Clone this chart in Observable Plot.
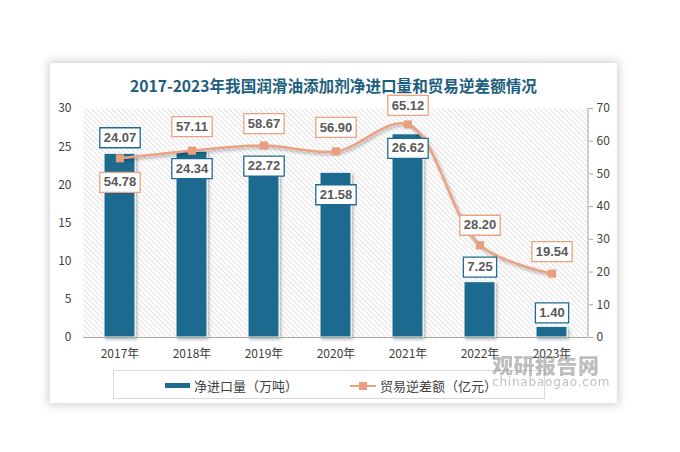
<!DOCTYPE html>
<html>
<head>
<meta charset="utf-8">
<script src="https://cdn.jsdelivr.net/npm/d3@7"></script>
<script src="https://cdn.jsdelivr.net/npm/@observablehq/plot@0.6"></script>
<style>
  html, body { margin: 0; padding: 0; background: #ffffff; }
  body { width: 680px; height: 452px; position: relative; overflow: hidden; font-family: "Noto Sans CJK SC", "Noto Sans", sans-serif; }
  #card { position: absolute; left: 50px; top: 63px; width: 567px; height: 340px; background: #fff; box-shadow: 0 0 9px 2px rgba(0,0,0,0.18); }
  #title { position: absolute; left: 0; width: 567px; top: 11px; text-align: center; font-size: 15.6px; font-weight: bold; color: #1c5e7e; }
  #chart { position: absolute; left: 0; top: 0; }
  #legend { position: absolute; left: 63px; top: 307px; width: 432px; height: 29px; border: 1px solid #d9d9d9; box-sizing: border-box; font-size: 13px; color: #404040; }
  .li { position: absolute; top: 5px; display: flex; align-items: center; }
  #wm { position: absolute; left: 442px; top: 286px; color: #7f7f7f; opacity: 0.5; pointer-events: none; }
  #wm .a { font-size: 21px; font-weight: 900; letter-spacing: 0.5px; }
  #wm .b { font-size: 12px; font-family: "DejaVu Sans", sans-serif; letter-spacing: 0.8px; margin-top: -4px; }
</style>
</head>
<body>
<div id="card">
  <div id="title"></div>
  <div id="chart"></div>
  <div id="legend"></div>
  <div id="wm"><div class="a">观研报告网</div><div class="b">chinabaogao.com</div></div>
</div>
<script>
// ---- data ----
const title = "2017-2023年我国润滑油添加剂净进口量和贸易逆差额情况";
const years = ["2017年", "2018年", "2019年", "2020年", "2021年", "2022年", "2023年"];
const netImport = [24.07, 24.34, 22.72, 21.58, 26.62, 7.25, 1.40];   // 万吨
const deficit = [54.78, 57.11, 58.67, 56.90, 65.12, 28.20, 19.54];     // 亿元
const leftTicks = [0, 5, 10, 15, 20, 25, 30];
const rightTicks = [0, 10, 20, 30, 40, 50, 60, 70];
const seriesNames = ["净进口量（万吨）", "贸易逆差额（亿元）"];

// ---- styling / layout ----
const W = 567, H = 340;
const mL = 33, mR = 29, mT = 45, mB = 66;
const barColor = "#1e6b8f";
const lineColor = "#eba282";
const markerColor = "#e99f7f";
const k = leftTicks[leftTicks.length - 1] / rightTicks[rightTicks.length - 1];
const barLabelDy = [-16, 17, 2, 22, 14, -15, -14];
const lineLabelDy = [24, -24, -22, -24, -19, -20, -22];

document.getElementById("title").textContent = title;

const rows = years.map((y, i) => ({year: y, imp: netImport[i], def: deficit[i], defS: deficit[i] * k}));

function boxSymbol(w, h) {
  return {draw(ctx) { ctx.rect(-w / 2, -h / 2, w, h); }};
}
function labelWidth(s) {
  let w = 0;
  for (const c of s) w += c === "." ? 3.6 : 7.2;
  return w + 8;
}

const labelMarks = [];
rows.forEach((d, i) => {
  const sb = d.imp.toFixed(2);
  labelMarks.push(Plot.dot([d], {x: "year", y: "imp", symbol: boxSymbol(labelWidth(sb), 20), r: 5, fill: "white", stroke: barColor, strokeWidth: 1.3, dy: barLabelDy[i]}));
  labelMarks.push(Plot.text([d], {x: "year", y: "imp", text: () => sb, dy: barLabelDy[i], fontSize: 13, fontWeight: "bold", fill: "#595959", fontFamily: "Liberation Sans, Arial, sans-serif"}));
  const sl = d.def.toFixed(2);
  labelMarks.push(Plot.dot([d], {x: "year", y: "defS", symbol: boxSymbol(labelWidth(sl), 20), r: 5, fill: "white", stroke: lineColor, strokeWidth: 1.3, dy: lineLabelDy[i]}));
  labelMarks.push(Plot.text([d], {x: "year", y: "defS", text: () => sl, dy: lineLabelDy[i], fontSize: 13, fontWeight: "bold", fill: "#595959", fontFamily: "Liberation Sans, Arial, sans-serif"}));
});

const chart = Plot.plot({
  width: W, height: H,
  marginLeft: mL, marginRight: mR, marginTop: mT, marginBottom: mB,
  style: {fontFamily: "Noto Sans CJK SC, Noto Sans, sans-serif", fontSize: "12px", color: "#404040", background: "transparent", overflow: "visible"},
  x: {domain: years, paddingInner: 0.57, paddingOuter: 0.285, label: null},
  y: {domain: [0, 30], label: null},
  marks: [
    Plot.frame({fill: "url(#hatchp)", stroke: null}),
    Plot.barY(rows, {x: "year", y: "imp", fill: barColor, stroke: "white", strokeWidth: 1}),
    Plot.ruleY([0], {stroke: "#a6a6a6", strokeWidth: 1}),
    Plot.line(rows, {x: "year", y: "defS", stroke: lineColor, strokeWidth: 2.5, curve: "catmull-rom"}),
    Plot.dot(rows, {x: "year", y: "defS", symbol: "square", r: 4.6, fill: markerColor, stroke: null}),
    ...labelMarks,
    Plot.axisX({tickSize: 0, tickPadding: 12, fontSize: 12, label: null}),
    Plot.axisY(leftTicks, {anchor: "left", tickSize: 0, tickPadding: 12, label: null}),
    Plot.axisY(rightTicks.map(v => v * k), {anchor: "right", tickSize: 4, tickPadding: 4, stroke: "#a6a6a6", tickFormat: v => String(Math.round(v / k)), label: null})
  ]
});

const defs = `<defs>
  <pattern id="hatchp" patternUnits="userSpaceOnUse" width="3.6" height="3.6" patternTransform="rotate(-45)">
    <rect width="3.6" height="3.6" fill="#ffffff"/>
    <line x1="0" y1="0" x2="0" y2="3.6" stroke="#d4d4d4" stroke-width="1.3"/>
  </pattern>
  <filter id="shadow" x="-20%" y="-20%" width="140%" height="140%">
    <feDropShadow dx="1.5" dy="2" stdDeviation="1.6" flood-color="#000" flood-opacity="0.3"/>
  </filter>
</defs>`;
chart.insertAdjacentHTML("afterbegin", defs);
chart.querySelectorAll('g[aria-label="bar"], g[aria-label="line"]').forEach(g => g.setAttribute("filter", "url(#shadow)"));

// right axis line, from the y scale range
const yr = chart.scale("y").range;
const xr = W - mR;
const ln = document.createElementNS("http://www.w3.org/2000/svg", "line");
ln.setAttribute("x1", xr); ln.setAttribute("x2", xr);
ln.setAttribute("y1", yr[0]); ln.setAttribute("y2", yr[1]);
ln.setAttribute("stroke", "#a6a6a6");
chart.appendChild(ln);

document.getElementById("chart").appendChild(chart);

// legend
const lg = document.getElementById("legend");
lg.innerHTML = `
  <div class="li" style="left:51px"><span style="display:inline-block;width:25px;height:5px;background:${barColor};margin-right:4px"></span>${seriesNames[0]}</div>
  <div class="li" style="left:236px"><span style="position:relative;display:inline-block;width:26px;height:14px;margin-right:4px"><span style="position:absolute;left:0;top:6px;width:26px;height:2.5px;background:${lineColor}"></span><span style="position:absolute;left:9px;top:3.5px;width:8px;height:8px;background:${markerColor}"></span></span>${seriesNames[1]}</div>`;
</script>
</body>
</html>
